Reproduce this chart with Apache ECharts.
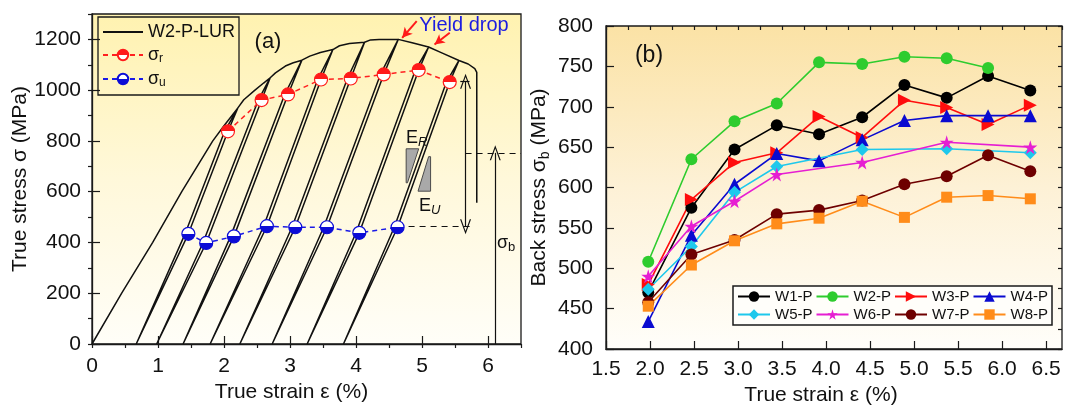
<!DOCTYPE html>
<html>
<head>
<meta charset="utf-8">
<title>LUR curve and back stress</title>
<script src="https://cdn.jsdelivr.net/npm/echarts@6/dist/echarts.min.js"></script>
<style>
html, body { margin: 0; padding: 0; background: #fff; }
#main { width: 1080px; height: 411px; }
</style>
</head>
<body>
<div id="main"></div>
<script type="text/javascript">
var FONT = '"Liberation Sans", Arial, Helvetica, sans-serif';

// ---- panel (a): loading-unloading-reloading curve of W2-P ----
// envelope pieces between unloading peaks (strain %, stress MPa)
var envelopeSegs = [
    [[0, 0], [0.45, 200], [0.92, 400], [1.36, 600], [1.83, 800], [2.0, 860]],
    [[2.3, 962], [2.46, 998], [2.6, 1028]],
    [[2.78, 1068], [2.93, 1095], [3.05, 1108]],
    [[3.3, 1134], [3.46, 1148]],
    [[3.75, 1175], [3.9, 1184]],
    [[4.22, 1198], [4.35, 1200]],
    [[4.85, 1187]],
    [[5.3, 1147]],
    [[5.7, 1103], [5.8, 1085], [5.83, 1070], [5.83, 556]]
];
var peaks = [[2.21, 930], [2.70, 1049], [3.18, 1118], [3.65, 1160], [4.13, 1189], [4.64, 1200], [5.10, 1170], [5.56, 1117]];
var zeroStrain = [0.67, 0.98, 1.38, 1.79, 2.24, 2.73, 3.26, 3.81];
var sigmaR = [[2.06, 838], [2.57, 961], [2.97, 983], [3.47, 1042], [3.92, 1046], [4.42, 1062], [4.95, 1079], [5.42, 1032]];
var sigmaU = [[1.46, 434], [1.73, 398], [2.15, 424], [2.65, 464], [3.08, 460], [3.56, 460], [4.05, 438], [4.63, 460]];
var loopWidth = 0.05;   // gap between unloading and reloading branch

// gray slope triangles E_R / E_U
var slopeShapes = [
    [[4.76, 769], [4.95, 769], [4.78, 635], [4.76, 635]],
    [[5.10, 738], [5.13, 738], [5.13, 602], [4.94, 602]]
];

// ---- panel (b): back stress ----
var strainB = [1.98, 2.47, 2.96, 3.44, 3.92, 4.41, 4.89, 5.37, 5.84, 6.32];
var w1 = [470, 575, 647, 677, 666, 687, 727, 711, 738, 720];
var w2 = [508, 635, 682, 704, 755, 753, 762, 760, 748, null];
var w3 = [480, 585, 631, 643, 688, 662, 708, 699, 678, 702];
var w4 = [434, 541, 604, 642, 633, 659, 683, 689, 689, 689];
var w5 = [474, 527, 594, 626, null, 647, null, 648, null, 643];
var w6 = [490, 552, 583, 616, null, 631, null, 656, null, 650];
var w7 = [458, 517, 535, 567, 572, 584, 604, 614, 640, 620];
var w8 = [453, 504, 534, 555, 562, 583, 563, 588, 590, 586];

var lurPath = [];
for (var k = 0; k < peaks.length; k++) {
    envelopeSegs[k].forEach(function (p) { lurPath.push(p); });
    lurPath.push(peaks[k]);
    lurPath.push(sigmaR[k]);
    lurPath.push(sigmaU[k]);
    lurPath.push([zeroStrain[k], 0]);
    lurPath.push([sigmaU[k][0] - loopWidth, sigmaU[k][1]]);
    lurPath.push([sigmaR[k][0] - loopWidth, sigmaR[k][1]]);
    lurPath.push(peaks[k]);
}
envelopeSegs[8].forEach(function (p) { lurPath.push(p); });

var halfFill = function (top, bottom) {
    return new echarts.graphic.LinearGradient(0, 0, 0, 1, [
        { offset: 0, color: top }, { offset: 0.5, color: top },
        { offset: 0.5, color: bottom }, { offset: 1, color: bottom }
    ]);
};

var starPath = 'path://M50,0 L61,35 L98,35 L68,57 L79,91 L50,70 L21,91 L32,57 L2,35 L39,35 Z';
var vHead = 'path://M0,14 L6,0 L12,14 L10.6,14 L6,3 L1.4,14 Z';

var seriesB = [
    { name: 'W1-P', vals: w1, color: '#000000', symbol: 'circle', size: 12 },
    { name: 'W2-P', vals: w2, color: '#2ecc2e', symbol: 'circle', size: 12 },
    { name: 'W3-P', vals: w3, color: '#ff0d0d', symbol: 'triangle', size: 13, rotate: -90 },
    { name: 'W4-P', vals: w4, color: '#0a0ad0', symbol: 'triangle', size: 13 },
    { name: 'W5-P', vals: w5, color: '#1ec8ec', symbol: 'diamond', size: 13 },
    { name: 'W6-P', vals: w6, color: '#e61ed2', symbol: starPath, size: 14 },
    { name: 'W7-P', vals: w7, color: '#6e0000', symbol: 'circle', size: 12 },
    { name: 'W8-P', vals: w8, color: '#ff8c1a', symbol: 'rect', size: 11 }
];

var tickStyle = { color: '#1a1a1a', width: 1.2 };
var plainNum = function (v) { return String(v); };
var mainAxis = function (grid, min, max, interval, margin, fmt, showMax) {
    return {
        type: 'value', gridIndex: grid, min: min, max: max, interval: interval,
        axisLine: { show: true, onZero: false, lineStyle: { color: '#1a1a1a', width: 1.3 } },
        axisTick: { inside: true, length: 8, lineStyle: tickStyle },
        splitLine: { show: false },
        axisLabel: { fontSize: 21, color: '#111', fontFamily: FONT, margin: margin, showMaxLabel: !!showMax, formatter: fmt || plainNum }
    };
};
var minorAxis = function (grid, min, max, interval) {
    return {
        type: 'value', gridIndex: grid, min: min, max: max, interval: interval,
        axisLine: { show: false }, axisLabel: { show: false }, splitLine: { show: false },
        axisTick: { inside: true, length: 4, lineStyle: tickStyle }
    };
};

var xa = mainAxis(0, 0, 6.5, 1, 12);
xa.name = 'True strain ε (%)';
xa.nameLocation = 'middle';
xa.nameGap = 35;
xa.nameTextStyle = { fontSize: 21, color: '#111', fontFamily: FONT, padding: [0, 30, 0, 0] };
var ya = mainAxis(0, 0, 1300, 200, 11);
ya.name = 'True stress σ (MPa)';
ya.nameLocation = 'middle';
ya.nameGap = 55;
ya.nameTextStyle = { fontSize: 21, color: '#111', fontFamily: FONT };

var xb = mainAxis(1, 1.5, 6.68, 0.5, 10, function (v) { return v.toFixed(1); });
xb.name = 'True strain ε (%)';
xb.nameLocation = 'middle';
xb.nameGap = 32;
xb.nameTextStyle = { fontSize: 21, color: '#111', fontFamily: FONT, padding: [0, 26, 0, 0] };
var yb = mainAxis(1, 400, 800, 50, 13, null, true);
yb.name = '{t|Back stress σ}{s|b}{t| (MPa)}';
yb.nameLocation = 'middle';
yb.nameGap = 54;
yb.nameTextStyle = {
    fontSize: 21, color: '#111', fontFamily: FONT,
    rich: {
        t: { fontSize: 21, fontFamily: FONT, color: '#111', lineHeight: 26 },
        s: { fontSize: 14, fontFamily: FONT, color: '#111', verticalAlign: 'bottom', lineHeight: 13 }
    }
};

var myChart = echarts.init(document.getElementById('main'));

var seriesList = [
    {
        name: 'W2-P-LUR', type: 'line', xAxisIndex: 0, yAxisIndex: 0,
        data: lurPath, symbol: 'none', silent: true, z: 3,
        lineStyle: { color: '#111', width: 1.5 }, itemStyle: { color: '#111' },
        markLine: {
            silent: true, symbol: 'none', label: { show: false },
            lineStyle: { color: '#111', width: 1.2, type: 'solid' },
            data: [
                [{ coord: [4.63, 462], lineStyle: { type: [6, 5] } }, { coord: [5.75, 462] }],
                [{ coord: [5.66, 753], lineStyle: { type: [6, 5] } }, { coord: [6.5, 753] }],
                [{ coord: [5.58, 1035] }, { coord: [5.72, 1035] }],
                [{ coord: [5.66, 1035], symbol: vHead, symbolSize: [11, 15] }, { coord: [5.66, 462], symbol: vHead, symbolSize: [11, 15] }],
                [{ coord: [6.11, 0] }, { coord: [6.11, 753], symbol: vHead, symbolSize: [11, 15] }],
                [{ coord: [4.92, 1272], lineStyle: { color: '#ff1a1a', width: 2 } }, { coord: [4.70, 1206], symbol: 'arrow', symbolSize: [8, 10] }],
                [{ coord: [5.42, 1226], lineStyle: { color: '#ff1a1a', width: 2 } }, { coord: [5.19, 1180], symbol: 'arrow', symbolSize: [8, 10] }]
            ]
        }
    },
    {
        name: 'sr', type: 'line', xAxisIndex: 0, yAxisIndex: 0, data: sigmaR, z: 5,
        symbol: 'circle', symbolSize: 13,
        lineStyle: { color: '#ff2020', width: 1.5, type: [5, 4] },
        itemStyle: { color: halfFill('#ff1a1a', '#ffffff'), borderColor: '#ff1a1a', borderWidth: 1.2 }
    },
    {
        name: 'su', type: 'line', xAxisIndex: 0, yAxisIndex: 0, data: sigmaU, z: 5,
        symbol: 'circle', symbolSize: 13,
        lineStyle: { color: '#1a1ae6', width: 1.5, type: [5, 4] },
        itemStyle: { color: halfFill('#ffffff', '#0c0cd6'), borderColor: '#0c0cd6', borderWidth: 1.2 }
    },
    {
        name: 'shapes', type: 'custom', xAxisIndex: 0, yAxisIndex: 0, silent: true, z: 4,
        data: slopeShapes.map(function (s, i) { return [i]; }),
        renderItem: function (params, api) {
            var pts = slopeShapes[api.value(0)].map(function (p) { return api.coord(p); });
            return {
                type: 'polygon', shape: { points: pts },
                style: { fill: '#a9a9a9', stroke: '#4a4a4a', lineWidth: 1 }
            };
        }
    }
];

seriesB.forEach(function (s) {
    var data = [];
    strainB.forEach(function (x, i) { if (s.vals[i] != null) data.push([x, s.vals[i]]); });
    seriesList.push({
        name: s.name, type: 'line', xAxisIndex: 1, yAxisIndex: 1, data: data,
        symbol: s.symbol, symbolSize: s.size, symbolRotate: s.rotate || 0, z: 3,
        lineStyle: { color: s.color, width: 1.6 },
        itemStyle: { color: s.color, borderWidth: 0 }
    });
});

var option = {
    animation: false,
    backgroundColor: '#ffffff',
    textStyle: { fontFamily: FONT },
    grid: [
        {
            left: 92, top: 14, width: 429, height: 330, show: true,
            borderColor: '#1a1a1a', borderWidth: 1.3,
            backgroundColor: new echarts.graphic.LinearGradient(0, 0, 0, 1, [
                { offset: 0, color: '#fff2b0' }, { offset: 0.5, color: '#fff8da' }, { offset: 1, color: '#fffef8' }
            ])
        },
        {
            left: 606, top: 26, width: 456, height: 323, show: true,
            borderColor: '#1a1a1a', borderWidth: 1.3,
            backgroundColor: new echarts.graphic.LinearGradient(0, 0, 0, 1, [
                { offset: 0, color: '#fbe2a5' }, { offset: 0.5, color: '#fdf1d6' }, { offset: 1, color: '#fffefa' }
            ])
        }
    ],
    xAxis: [xa, xb, minorAxis(0, 0, 6.5, 0.5), minorAxis(1, 1.5, 6.68, 0.25)],
    yAxis: [ya, yb, minorAxis(0, 0, 1300, 100), minorAxis(1, 400, 800, 25)],
    legend: [
        {
            data: [{ name: 'W2-P-LUR', itemStyle: { opacity: 0 } }, 'sr', 'su'],
            orient: 'vertical', left: 98, top: 17,
            padding: [6, 4, 6, 4], itemGap: 5, itemWidth: 40, itemHeight: 13,
            borderColor: '#1a1a1a', borderWidth: 1.3, backgroundColor: 'transparent',
            selectedMode: false,
            formatter: function (n) {
                if (n === 'sr') return '{g|σ}{s|r}';
                if (n === 'su') return '{g|σ}{s|u}';
                return '{g|' + n + '}';
            },
            textStyle: {
                fontSize: 18, color: '#111', fontFamily: FONT,
                rich: {
                    g: { fontSize: 18, fontFamily: FONT, color: '#111', lineHeight: 20 },
                    s: { fontSize: 12, fontFamily: FONT, color: '#111', verticalAlign: 'bottom', lineHeight: 10 }
                }
            }
        },
        {
            data: seriesB.map(function (s) { return s.name; }),
            left: 733, top: 286, width: 312, orient: 'horizontal',
            padding: [3, 4, 3, 4], itemGap: 3, itemWidth: 32, itemHeight: 13,
            borderColor: '#1a1a1a', borderWidth: 1.5, backgroundColor: '#fffefa',
            selectedMode: false,
            textStyle: { fontSize: 15, color: '#111', fontFamily: FONT, lineHeight: 15 }
        }
    ],
    graphic: [
        { type: 'text', x: 268, y: 42, silent: true, style: { text: '(a)', fontSize: 22, fontFamily: FONT, fill: '#111', align: 'center', verticalAlign: 'middle' } },
        { type: 'text', x: 649, y: 56, silent: true, style: { text: '(b)', fontSize: 23, fontFamily: FONT, fill: '#111', align: 'center', verticalAlign: 'middle' } },
        { type: 'text', x: 464, y: 25, silent: true, style: { text: 'Yield drop', fontSize: 20, fontFamily: FONT, fill: '#1c1ce0', align: 'center', verticalAlign: 'middle' } },
        {
            type: 'text', x: 406, y: 138, silent: true,
            style: {
                text: '{m|E}{s|R}', align: 'left', verticalAlign: 'middle', fill: '#111',
                rich: { m: { fontSize: 18, fontFamily: FONT, lineHeight: 22 }, s: { fontSize: 13, fontStyle: 'italic', fontFamily: FONT, verticalAlign: 'bottom', lineHeight: 12 } }
            }
        },
        {
            type: 'text', x: 419, y: 206, silent: true,
            style: {
                text: '{m|E}{s|U}', align: 'left', verticalAlign: 'middle', fill: '#111',
                rich: { m: { fontSize: 18, fontFamily: FONT, lineHeight: 22 }, s: { fontSize: 13, fontStyle: 'italic', fontFamily: FONT, verticalAlign: 'bottom', lineHeight: 12 } }
            }
        },
        {
            type: 'text', x: 497, y: 243, silent: true,
            style: {
                text: '{m|σ}{s|b}', align: 'left', verticalAlign: 'middle', fill: '#111',
                rich: { m: { fontSize: 18, fontFamily: FONT, lineHeight: 22 }, s: { fontSize: 13, fontFamily: FONT, verticalAlign: 'bottom', lineHeight: 12 } }
            }
        }
    ],
    series: seriesList
};

myChart.setOption(option);
window.onresize = myChart.resize;
</script>
</body>
</html>
